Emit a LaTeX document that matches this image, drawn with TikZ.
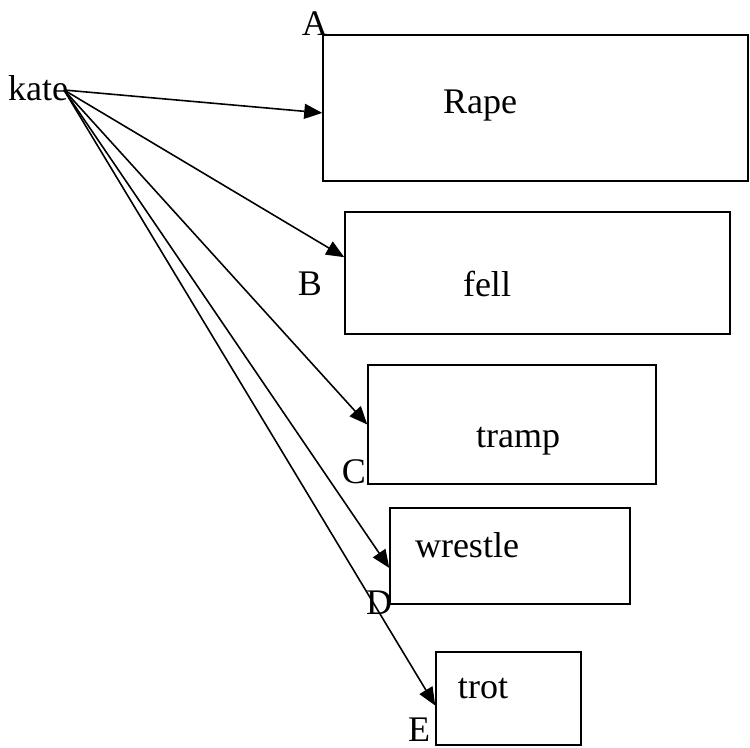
\documentclass[tikz,border=0pt]{standalone}
\usepackage{fontspec}
\setmainfont{Liberation Serif}
\usepackage{tikz}
\usetikzlibrary{shapes,positioning,calc}
\usetikzlibrary{arrows.meta}
\tikzstyle{verbbox} = [rectangle, draw, line width=0.9pt, inner sep=0pt]
\tikzstyle{word} = [inner sep=1pt, font=\fontsize{20.5}{24}\selectfont]
\tikzset{>={Triangle[length=0.36cm,width=0.3cm]}}

\begin{document}
\begin{tikzpicture}[x=0.02cm, y=-0.02cm, line width=0.9pt]
				\useasboundingbox (0,0) rectangle (750,747);
				% boxes
				\node[verbbox, minimum width=8.5cm, minimum height=2.92cm] (boxA) at (535.5,108) {};
				\node[verbbox, minimum width=7.7cm, minimum height=2.44cm] (boxB) at (537.5,273) {};
				\node[verbbox, minimum width=5.76cm, minimum height=2.38cm] (boxC) at (512,424.5) {};
				\node[verbbox, minimum width=4.8cm, minimum height=1.92cm] (boxD) at (510,556) {};
				\node[verbbox, minimum width=2.9cm, minimum height=1.86cm] (boxE) at (508.5,698.5) {};
				% words in the boxes
				\node[word] (rape) at (480,106) {Rape};
				\node[word] (fell) at (487,284) {fell};
				\node[word] (tramp) at (518,441) {tramp};
				\node[word] (wrestle) at (467,545) {wrestle};
				\node[word] (trot) at (483,689) {trot};
				% labels
				\node[word] (kate) at (38,88) {kate};
				\node[word] (labA) at (315,24) {A};
				\node[word] (labB) at (310,284) {B};
				\node[word] (labC) at (354,472) {C};
				\node[word] (labD) at (379,603) {D};
				\node[word] (labE) at (419,730) {E};
				% arrows
				\coordinate (hub) at (64,90);
				\draw[->] (hub) -- ([yshift=-2.8pt]boxA.west);
				\draw[->] (hub) -- ([yshift=9pt]boxB.west);
				\draw[->] (hub) -- (boxC.west);
				\draw[->] (hub) -- ([yshift=-6.8pt]boxD.west);
				\draw[->] (hub) -- ([yshift=-4pt]boxE.west);
			\end{tikzpicture}
\end{document}
